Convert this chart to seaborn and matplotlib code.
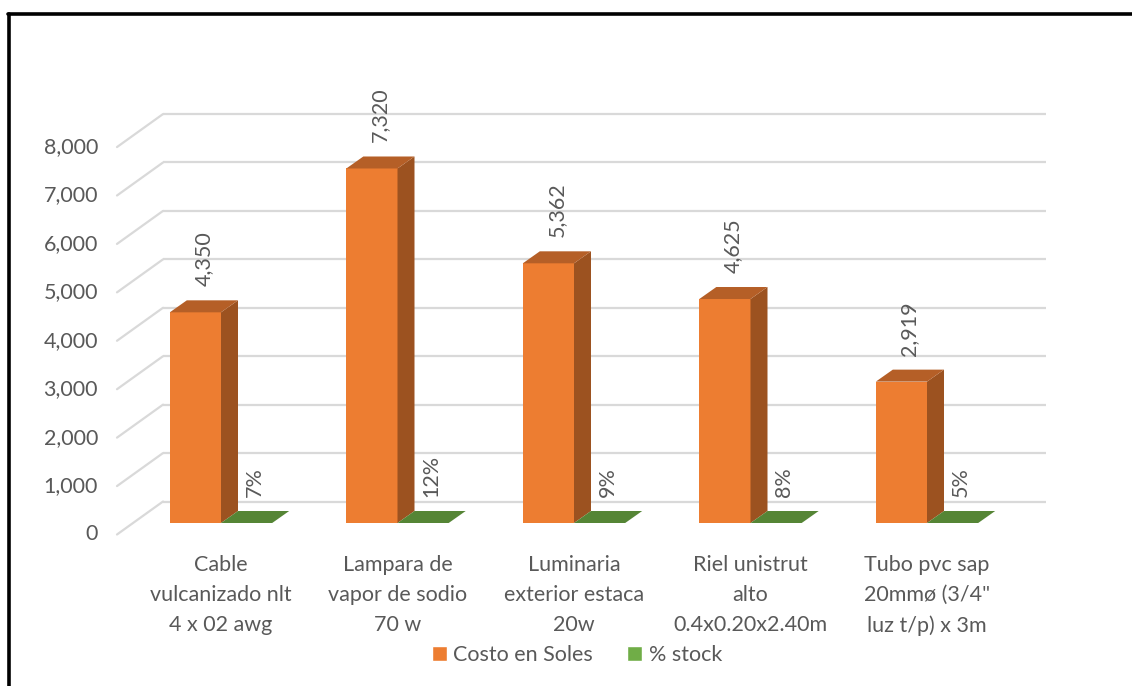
import matplotlib
matplotlib.use("Agg")
import matplotlib.pyplot as plt
import seaborn as sns
import pandas as pd
from matplotlib.patches import Polygon, Patch
from matplotlib.lines import Line2D

# ---------------- data ----------------
categories = [
    "Cable\nvulcanizado nlt\n4 x 02 awg",
    "Lampara de\nvapor de sodio\n70 w",
    "Luminaria\nexterior estaca\n20w",
    "Riel unistrut\nalto\n0.4x0.20x2.40m",
    "Tubo pvc sap\n20mmø (3/4\"\nluz t/p) x 3m",
]
series_names = ["Costo en Soles", "% stock"]
costo = [4350, 7320, 5362, 4625, 2919]
stock = [0.07, 0.12, 0.09, 0.08, 0.05]
y_ticks = [0, 1000, 2000, 3000, 4000, 5000, 6000, 7000, 8000]

# ---------------- style ----------------
ORANGE = "#ED7D31"
ORANGE_SIDE = "#9C5220"
ORANGE_TOP = "#B55F27"
GREEN = "#70AD47"
GREEN_SIDE = "#4A7530"
GREEN_TOP = "#558535"
TXT = "#595959"
GRID = "#D9D9D9"
FS = 15.5

sns.set_theme(style="white")
plt.rcParams["font.family"] = ["Lato", "DejaVu Sans"]

W, H, DPI = 1132, 686, 100
fig = plt.figure(figsize=(W / DPI, H / DPI), dpi=DPI)
fig.patch.set_facecolor("white")

# layout in pixels
L, R, T, B = 117, 1046, 60, 545
X0, CAT = 221.0, 176.5     # pixel of category 0, pixels per category
Y0, PPK = 523.0, 48.43     # pixel of value 0 (bar front plane), pixels per 1000

ax = fig.add_axes([L / W, 1 - B / H, (R - L) / W, (B - T) / H])
ax.set_facecolor("none")

df = pd.DataFrame({
    "cat": categories * 2,
    "serie": [series_names[0]] * len(categories) + [series_names[1]] * len(categories),
    "val": costo + stock,
})
sns.barplot(data=df, x="cat", y="val", hue="serie", hue_order=series_names,
            palette=[ORANGE, GREEN], width=0.58, gap=0, saturation=1,
            legend=False, ax=ax, zorder=3, linewidth=0)

xmin, xmax = (L - X0) / CAT, (R - X0) / CAT
ymin, ymax = (Y0 - B) / PPK * 1000, (Y0 - T) / PPK * 1000
ax.set_xlim(xmin, xmax)
ax.set_ylim(ymin, ymax)

px_x = 1.0 / CAT          # data units per pixel (x)
px_y = 1000.0 / PPK       # data units per pixel (y)

# ---- walls / gridlines (3D look) ----
BACK_DY, FRONT_DY = 21.5, -11.5
back_left = (163 - X0) / CAT
front_left = (117 - X0) / CAT
for v in y_ticks:
    yb = v + BACK_DY * px_y
    yf = v + FRONT_DY * px_y
    ax.plot([back_left, xmax], [yb, yb], color=GRID, lw=1.6, zorder=1,
            clip_on=False, solid_capstyle="butt")
    ax.plot([front_left, back_left], [yf, yb], color=GRID, lw=1.6, zorder=1,
            clip_on=False)
    ax.text(-19 / (R - L), yf, f"{v:,}", transform=ax.get_yaxis_transform(),
            ha="right", va="center", fontsize=FS, color=TXT)

# ---- 3D faces + labels ----
DX, DY = 17, 12
dx, dy = DX * px_x, DY * px_y
face_cols = [(ORANGE_SIDE, ORANGE_TOP), (GREEN_SIDE, GREEN_TOP)]
for k, cont in enumerate(ax.containers):
    side_c, top_c = face_cols[k]
    for p in cont.patches:
        x, w, h = p.get_x(), p.get_width(), p.get_height()
        side = Polygon([(x + w, 0), (x + w, h), (x + w + dx, h + dy), (x + w + dx, dy)],
                       closed=True, facecolor=side_c, edgecolor="none", zorder=3)
        top = Polygon([(x, h), (x + w, h), (x + w + dx, h + dy), (x + dx, h + dy)],
                      closed=True, facecolor=top_c, edgecolor="none", zorder=3)
        ax.add_patch(side)
        ax.add_patch(top)
        txt = f"{h:,.0f}" if k == 0 else f"{h:.0%}"
        ax.annotate(txt, xy=(x + w / 2, h + dy), xytext=(8 * 0.72, 14 * 0.72),
                    textcoords="offset points", rotation=90, ha="center",
                    va="bottom", fontsize=FS, color=TXT)

# ---- axes cosmetics ----
ax.set_yticks([])
ax.set_xticks(range(len(categories)))
ax.tick_params(axis="x", length=0, pad=7, labelsize=FS, labelcolor=TXT)
ax.set_xticklabels(categories, linespacing=1.62, fontsize=FS, color=TXT)
ax.set_xlabel("")
ax.set_ylabel("")
for s in ax.spines.values():
    s.set_visible(False)

# ---- legend ----
handles = [Patch(facecolor=ORANGE, label=series_names[0]),
           Patch(facecolor=GREEN, label=series_names[1])]
fig.legend(handles=handles, loc="center", bbox_to_anchor=(577 / W, 1 - 655 / H),
           ncol=2, frameon=False, fontsize=FS, labelcolor=TXT,
           handlelength=0.7, handleheight=0.7, handletextpad=0.3,
           columnspacing=1.6)

# ---- outer frame ----
fig.add_artist(Line2D([8 / W, 1], [1 - 13.5 / H] * 2, color="black", lw=2.6,
                      transform=fig.transFigure))
fig.add_artist(Line2D([9 / W] * 2, [0, 1 - 13.5 / H], color="black", lw=2.6,
                      transform=fig.transFigure))

fig.savefig("out.png", dpi=DPI, facecolor="white")
